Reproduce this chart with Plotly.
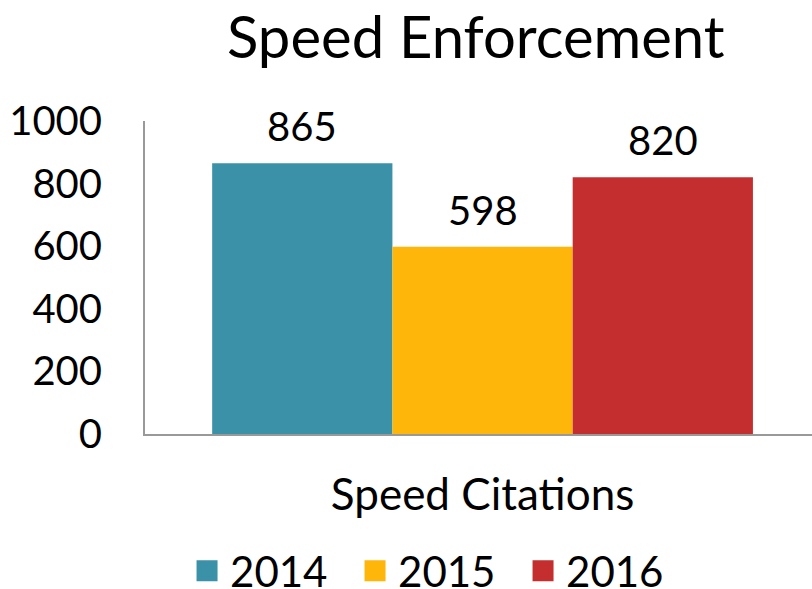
import plotly.graph_objects as go

categories = ["Speed Citations"]
years = ["2014", "2015", "2016"]
values = [865, 598, 820]
colors = ["#3A91A8", "#FFB60B", "#C42E2F"]
y_ticks = [0, 200, 400, 600, 800, 1000]

FONT = "Lato"
BARGAP = 0.199

fig = go.Figure()
for i, (yr, v, c) in enumerate(zip(years, values, colors)):
    fig.add_trace(go.Bar(
        x=categories, y=[v], name=yr, marker=dict(color=c, line=dict(width=0)),
        showlegend=False,
    ))
    fig.add_trace(go.Scatter(
        x=[None], y=[None], mode="markers", name=yr,
        marker=dict(symbol="square", size=25, color=c, line=dict(color=c, width=5)),
    ))
    fig.add_annotation(
        x=(i - 1) * (1 - BARGAP) / 3, y=v, xref="x", yref="y",
        text=str(v), showarrow=False, yanchor="bottom", yshift=11,
        font=dict(family=FONT, size=40, color="black"),
    )

fig.update_layout(
    width=812, height=589,
    margin=dict(l=145, r=0, t=121, b=155, autoexpand=False),
    paper_bgcolor="white", plot_bgcolor="white",
    barmode="group", bargap=BARGAP, bargroupgap=0,
    title=dict(text="Speed Enforcement", x=0.586, xref="container", xanchor="center",
               y=1 - 38 / 589, yref="container", yanchor="middle",
               font=dict(family=FONT, size=58, color="black")),
    font=dict(family=FONT, color="black"),
    showlegend=True,
    legend=dict(orientation="h", x=0.537, xanchor="center", xref="container",
                y=1 - 537 / 589, yref="container", yanchor="top",
                font=dict(family=FONT, size=42, color="black"),
                itemwidth=36, entrywidth=117, entrywidthmode="pixels",
                tracegroupgap=0, bgcolor="rgba(0,0,0,0)"),
    xaxis=dict(range=[-0.5, 0.488], showline=True, linecolor="#999999", linewidth=2,
               ticks="", showgrid=False, zeroline=False,
               tickfont=dict(family=FONT, size=44, color="black"),
               ticklabelstandoff=21),
    yaxis=dict(range=[0, 1000], tickvals=y_ticks, showline=True, linecolor="#999999",
               linewidth=2, ticks="", showgrid=False, zeroline=False,
               tickfont=dict(family=FONT, size=40, color="black"),
               ticklabelstandoff=33),
)

fig.write_html("out.html", config={"displayModeBar": False},
               post_script="document.body.style.margin='0';")
